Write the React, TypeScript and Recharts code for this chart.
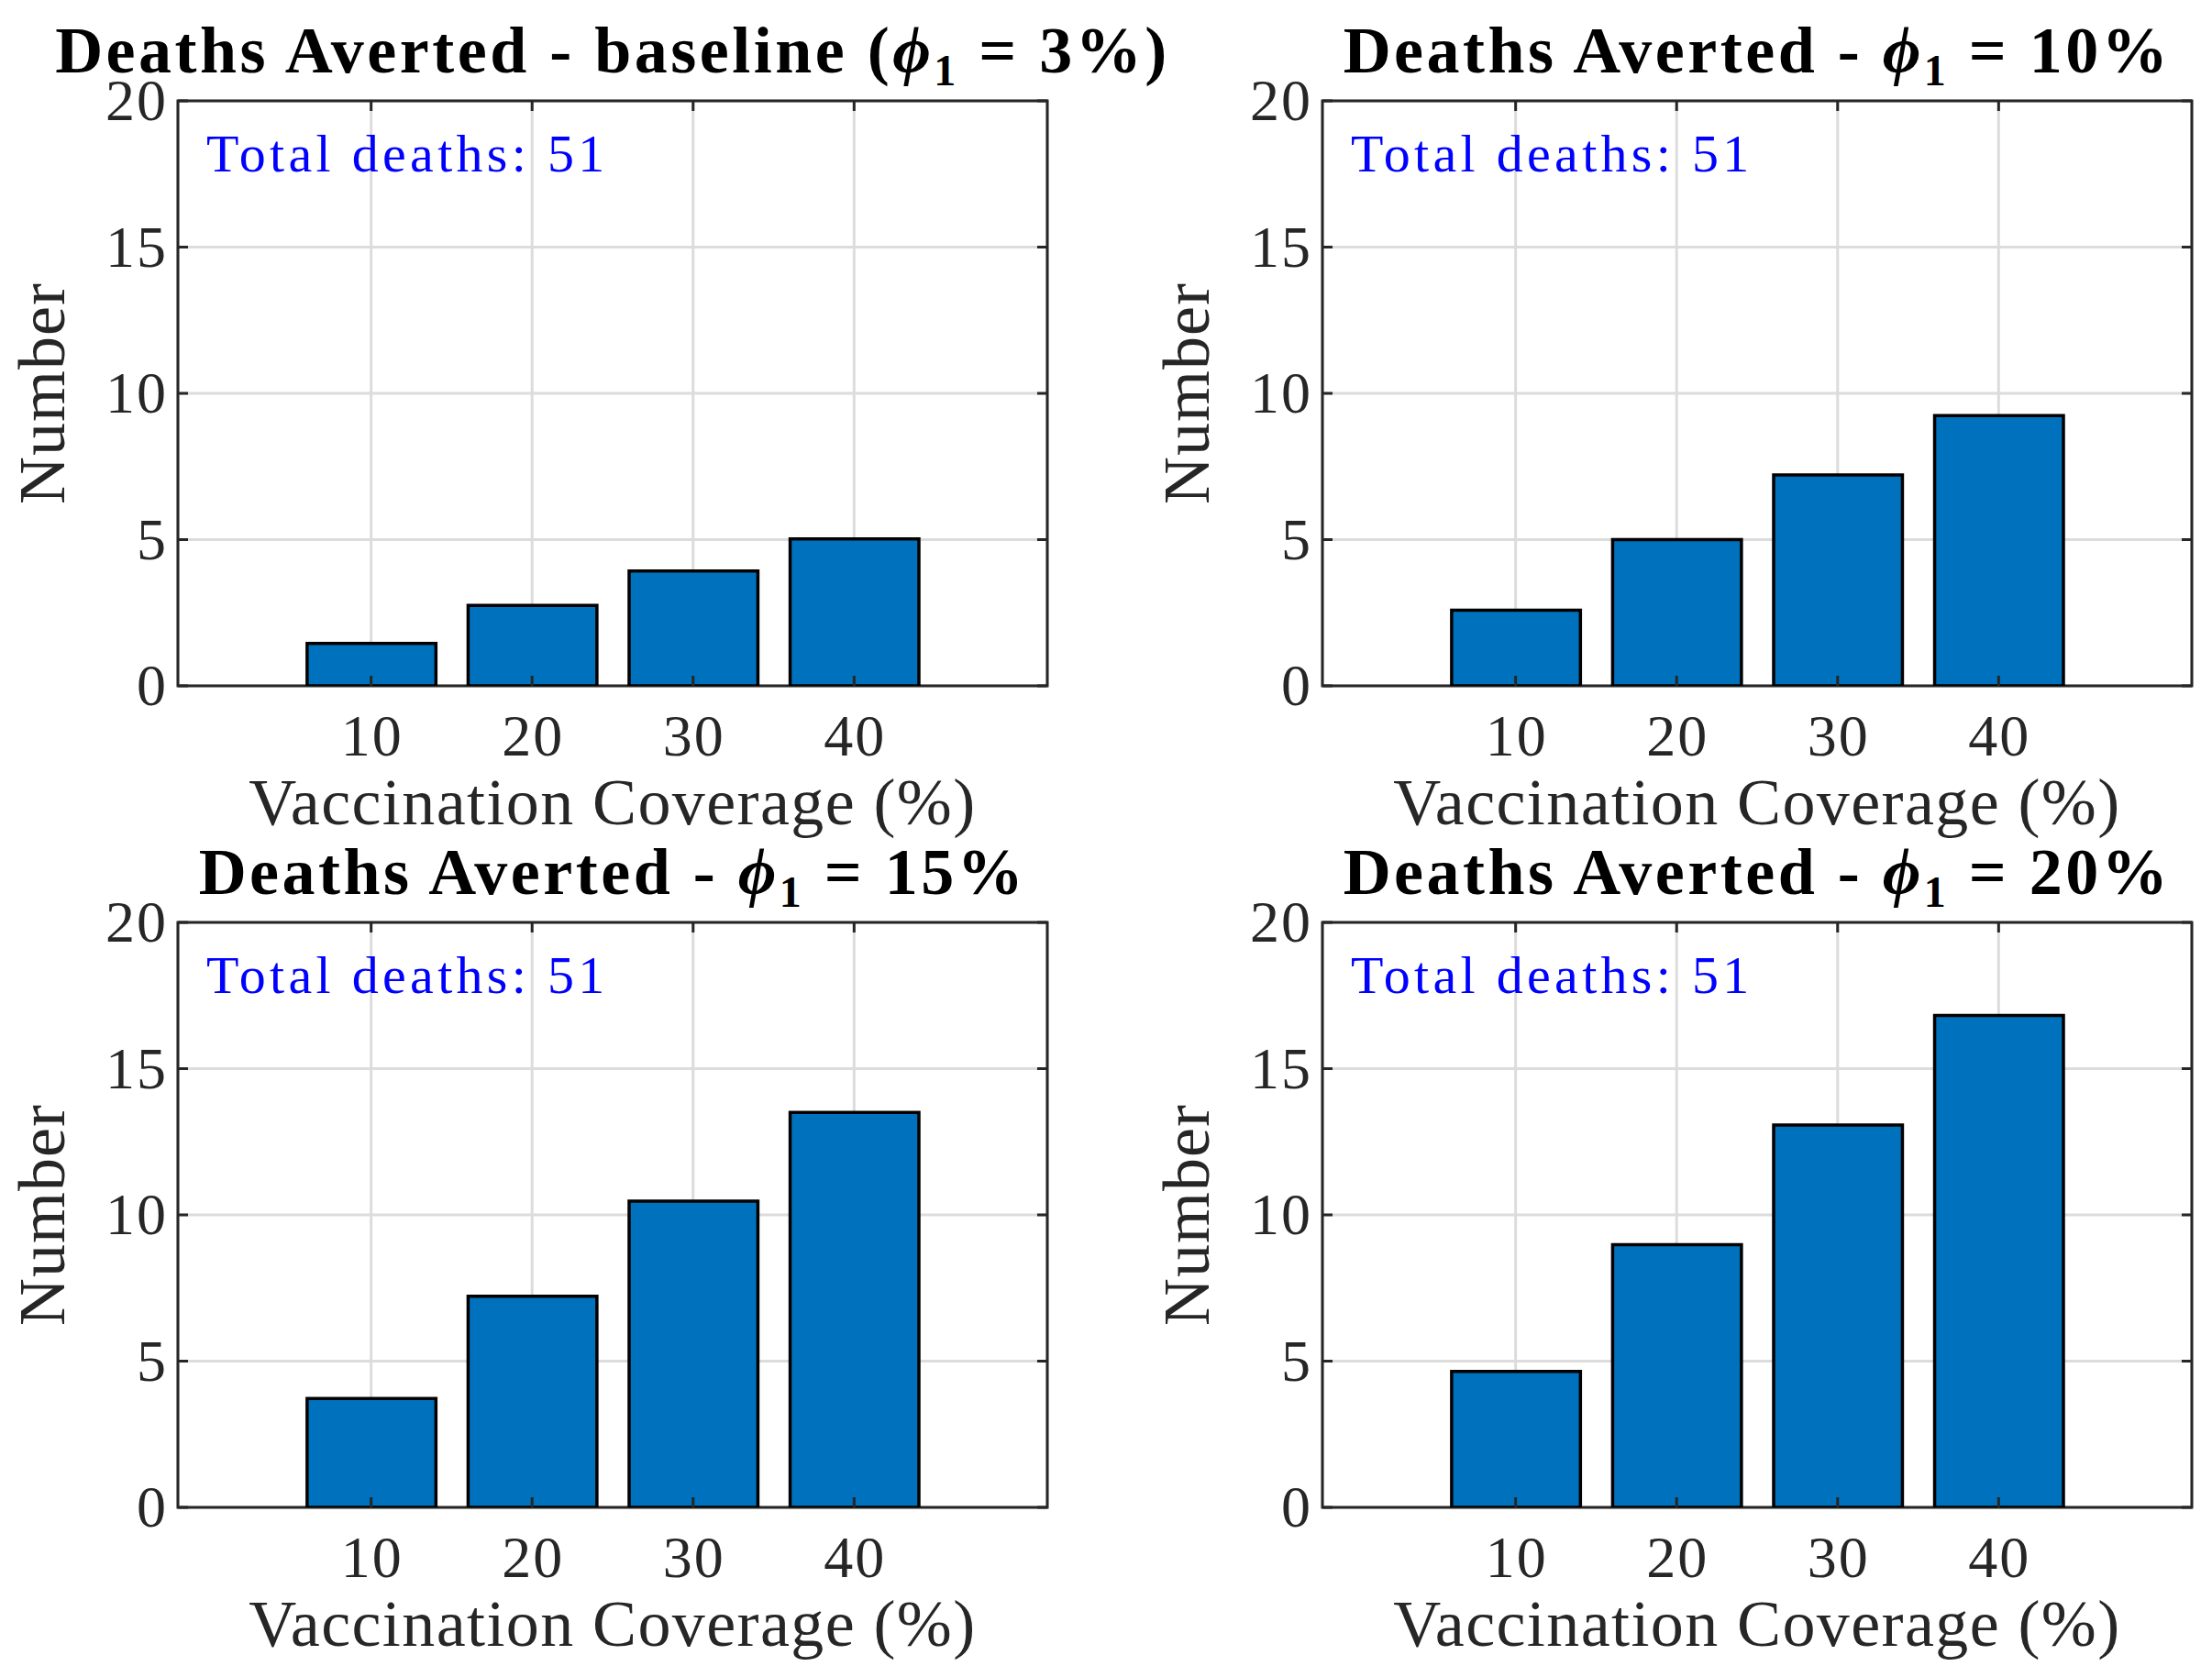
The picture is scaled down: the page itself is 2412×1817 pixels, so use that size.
import React from "react";
import {
  BarChart,
  Bar,
  XAxis,
  YAxis,
  CartesianGrid,
  ReferenceArea,
  ReferenceDot,
} from "recharts";

// coverage levels on the x axis (%)
const coverage = [10, 20, 30, 40];

// deaths averted, one array per phi_1 scenario
const avertedBaseline = [1.45, 2.75, 3.93, 5.02];
const averted10 = [2.59, 5.0, 7.21, 9.24];
const averted15 = [3.72, 7.22, 10.47, 13.5];
const averted20 = [4.65, 8.98, 13.07, 16.82];

const yTicks = [0, 5, 10, 15, 20];
const xDomain = [-2, 52];
const yDomain = [0, 20];
const totalDeaths = 51;

const W = 1206;
const H = 908;
const PLOT_W = 948;
const PLOT_H = 638;
const X_AXIS_H = 100;
const SERIF = '"Liberation Serif", "Times New Roman", serif';
const INK = "#262626";
const BAR_BLUE = "#0072BD";

const TICK_FS = 64;
const LABEL_FS = 72;
const TITLE_FS = 72;
const NOTE_FS = 58;

const panels = [
  { id: "base", col: 0, row: 0, values: avertedBaseline, prefix: "Deaths Averted - baseline (", pct: "3%", suffix: ")" },
  { id: "p10", col: 1, row: 0, values: averted10, prefix: "Deaths Averted - ", pct: "10%", suffix: "" },
  { id: "p15", col: 0, row: 1, values: averted15, prefix: "Deaths Averted - ", pct: "15%", suffix: "" },
  { id: "p20", col: 1, row: 1, values: averted20, prefix: "Deaths Averted - ", pct: "20%", suffix: "" },
];

function Panel({ col, row, values, prefix, pct, suffix }: any) {
  const plotLeft = col === 0 ? 194 : 236;
  const plotTop = row === 0 ? 110 : 98;
  const plotBottom = plotTop + PLOT_H;
  const plotRight = plotLeft + PLOT_W;
  const data = coverage.map((c, i) => ({ coverage: c, value: values[i] }));
  const barSize = (PLOT_W * 8) / (xDomain[1] - xDomain[0]);

  const xTick = (props: any) => {
    const { x, payload } = props;
    return (
      <g>
        <line x1={x} x2={x} y1={plotBottom} y2={plotBottom - 11} stroke={INK} strokeWidth={3} />
        <line x1={x} x2={x} y1={plotTop} y2={plotTop + 11} stroke={INK} strokeWidth={3} />
        <text x={x + 1} y={plotBottom + 76} textAnchor="middle" fill={INK} fontSize={TICK_FS} fontFamily={SERIF} letterSpacing={2}>
          {payload.value}
        </text>
      </g>
    );
  };

  const yTick = (props: any) => {
    const { y, payload } = props;
    return (
      <g>
        <line x1={plotLeft} x2={plotLeft + 11} y1={y} y2={y} stroke={INK} strokeWidth={3} />
        <line x1={plotRight - 11} x2={plotRight} y1={y} y2={y} stroke={INK} strokeWidth={3} />
        <text x={plotLeft - 11} y={y + 21} textAnchor="end" fill={INK} fontSize={TICK_FS} fontFamily={SERIF} letterSpacing={2}>
          {payload.value}
        </text>
      </g>
    );
  };

  const xLabel = () => (
    <text
      x={plotLeft + PLOT_W / 2}
      y={plotBottom + 151}
      textAnchor="middle"
      fill={INK}
      fontSize={LABEL_FS}
      fontFamily={SERIF}
      letterSpacing={1.4}
    >
      Vaccination Coverage (%)
    </text>
  );

  const yLabel = () => {
    const cx = plotLeft - 124;
    const cy = plotTop + PLOT_H / 2;
    return (
      <text
        x={cx}
        y={cy}
        transform={`rotate(-90, ${cx}, ${cy})`}
        textAnchor="middle"
        fill={INK}
        fontSize={LABEL_FS}
        fontFamily={SERIF}
        letterSpacing={1}
      >
        Number
      </text>
    );
  };

  const note = (props: any) => {
    const vb = props.viewBox || {};
    return (
      <text
        x={vb.x - 4}
        y={vb.y + 13}
        fill="#0000FF"
        fontSize={NOTE_FS}
        fontFamily={SERIF}
        letterSpacing={4.3}
      >
        {`Total deaths: ${totalDeaths}`}
      </text>
    );
  };

  return (
    <div style={{ position: "absolute", left: col * W, top: row * H, width: W, height: H }}>
      <BarChart
        width={W}
        height={H}
        data={data}
        margin={{ top: plotTop, right: W - plotRight, bottom: H - plotBottom - X_AXIS_H, left: 0 }}
      >
        <CartesianGrid stroke="#DCDCDC" strokeWidth={3} />
        <XAxis
          dataKey="coverage"
          type="number"
          domain={xDomain}
          ticks={coverage}
          allowDataOverflow
          height={X_AXIS_H}
          axisLine={false}
          tickLine={false}
          tickSize={0}
          tick={xTick}
          label={{ content: xLabel }}
        />
        <YAxis
          type="number"
          domain={yDomain}
          ticks={yTicks}
          allowDataOverflow
          width={plotLeft}
          axisLine={false}
          tickLine={false}
          tickSize={0}
          tick={yTick}
          label={{ content: yLabel }}
        />
        <Bar
          dataKey="value"
          fill={BAR_BLUE}
          stroke="#000000"
          strokeWidth={3.5}
          barSize={barSize}
          isAnimationActive={false}
        />
        <ReferenceArea
          x1={xDomain[0]}
          x2={xDomain[1]}
          y1={yDomain[0]}
          y2={yDomain[1]}
          fill="none"
          stroke={INK}
          strokeWidth={3}
        />
        <ReferenceDot x={0} y={18} r={0} fill="none" stroke="none" label={note} />
      </BarChart>
      <svg
        style={{ position: "absolute", left: 0, top: 0, overflow: "visible" }}
        width={W}
        height={plotTop}
      >
        <text
          x={plotLeft + PLOT_W / 2}
          y={plotTop - 31}
          textAnchor="middle"
          fill="#000000"
          fontSize={TITLE_FS}
          fontWeight="bold"
          fontFamily={SERIF}
          letterSpacing={3.5}
        >
          <tspan>{prefix}</tspan>
          <tspan fontStyle="italic">{"\u03D5"}</tspan>
          <tspan dy={14} fontSize={48}>1</tspan>
          <tspan dy={-14}>{` = ${pct}${suffix}`}</tspan>
        </text>
      </svg>
    </div>
  );
}

export default function App() {
  return (
    <div
      style={{
        position: "absolute",
        left: 0,
        top: 0,
        width: 2412,
        height: 1817,
        background: "#ffffff",
        overflow: "hidden",
      }}
    >
      <style>{`.recharts-surface, .recharts-wrapper { overflow: visible !important; }`}</style>
      {panels.map((p) => (
        <Panel key={p.id} {...p} />
      ))}
    </div>
  );
}
